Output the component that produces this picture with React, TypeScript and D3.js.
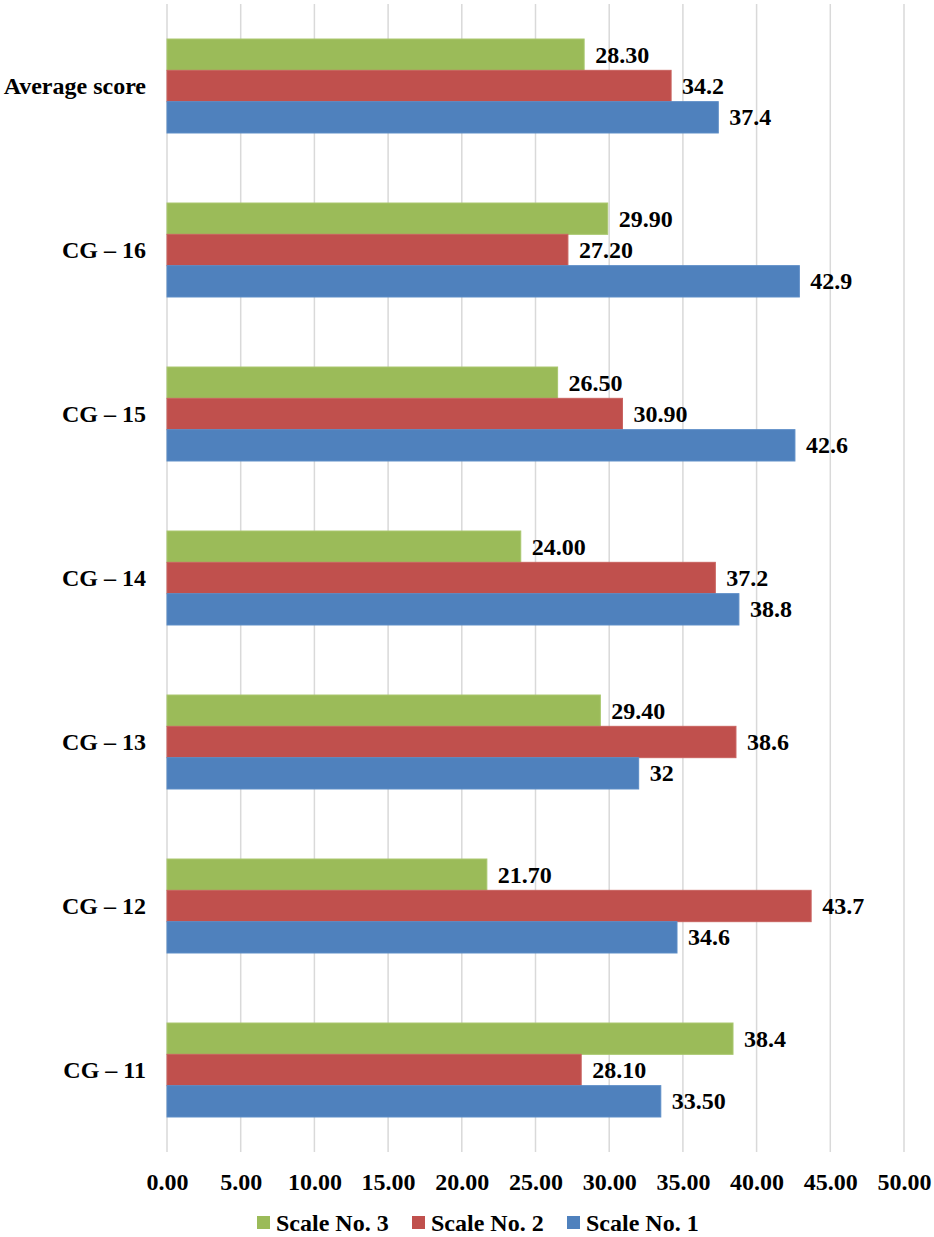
import * as d3 from 'd3';
import React, { useEffect, useRef } from 'react';

// categories top to bottom
const categories = ['Average score', 'CG – 16', 'CG – 15', 'CG – 14', 'CG – 13', 'CG – 12', 'CG – 11'];

// series values, same order as categories
const scale3 = [28.3, 29.9, 26.5, 24.0, 29.4, 21.7, 38.4];
const scale2 = [34.2, 27.2, 30.9, 37.2, 38.6, 43.7, 28.1];
const scale1 = [37.4, 42.9, 42.6, 38.8, 32.0, 34.6, 33.5];

// data labels as printed on the chart
const labels3 = ['28.30', '29.90', '26.50', '24.00', '29.40', '21.70', '38.4'];
const labels2 = ['34.2', '27.20', '30.90', '37.2', '38.6', '43.7', '28.10'];
const labels1 = ['37.4', '42.9', '42.6', '38.8', '32', '34.6', '33.50'];

const xTicks = [0, 5, 10, 15, 20, 25, 30, 35, 40, 45, 50];

const seriesNames = ['Scale No. 3', 'Scale No. 2', 'Scale No. 1'];
const seriesColors = ['#9BBB59', '#C0504D', '#4F81BD'];
const seriesStrokes = ['#A9C76E', '#C9625F', '#5B8CC6'];

export default () => {
    const ref = useRef<any>();

    useEffect(() => {
        const width = 934;
        const height = 1237;
        const fontSize = 24;
        const font = "'Times New Roman', Times, 'Liberation Serif', 'Nimbus Roman', 'DejaVu Serif', serif";

        const svg = d3.select<any, any>(ref.current)
            .attr('width', width)
            .attr('height', height)
            .style('font-family', font);
        svg.selectAll('*').remove();

        const xScale = d3.scaleLinear().domain([0, 50]).range([167, 904]);
        const yScale = d3.scaleBand().domain(categories).range([4, 1152])
            .paddingInner(0.427).paddingOuter(0.2135);
        const inner = d3.scaleBand().domain(seriesNames).range([0, yScale.bandwidth()]);

        // gridlines
        svg.append('g').selectAll('line').data(xTicks).join('line')
            .attr('x1', (d) => xScale(d))
            .attr('x2', (d) => xScale(d))
            .attr('y1', 4)
            .attr('y2', 1152)
            .attr('stroke', '#D9D9D9')
            .attr('stroke-width', 1.5);

        const series = [
            { name: seriesNames[0], values: scale3, labels: labels3 },
            { name: seriesNames[1], values: scale2, labels: labels2 },
            { name: seriesNames[2], values: scale1, labels: labels1 },
        ];

        series.forEach((s, si) => {
            const g = svg.append('g').attr('class', 'series');
            g.selectAll('rect').data(categories).join('rect')
                .attr('x', xScale(0))
                .attr('y', (c) => (yScale(c) as number) + (inner(s.name) as number))
                .attr('width', (c, i) => xScale(s.values[i]) - xScale(0))
                .attr('height', inner.bandwidth())
                .attr('fill', seriesColors[si])
                .attr('stroke', seriesStrokes[si])
                .attr('stroke-width', 1);
            g.selectAll('text').data(categories).join('text')
                .attr('x', (c, i) => xScale(s.values[i]) + 11)
                .attr('y', (c) => (yScale(c) as number) + (inner(s.name) as number) + inner.bandwidth() / 2 + 8)
                .style('font-family', font)
                .attr('font-weight', 'bold')
                .attr('font-size', fontSize)
                .attr('fill', '#000')
                .text((c, i) => s.labels[i]);
        });

        // category axis
        const yAxis = svg.append('g')
            .attr('transform', `translate(${xScale(0)},0)`)
            .call(d3.axisLeft(yScale).tickSize(0).tickPadding(21));
        yAxis.attr('font-family', null);
        yAxis.select('.domain').remove();
        yAxis.selectAll('text')
            .style('font-family', font)
            .attr('font-weight', 'bold')
            .attr('font-size', fontSize)
            .attr('fill', '#000')
            .attr('dy', '0.32em');

        // value axis
        const xAxis = svg.append('g')
            .attr('transform', 'translate(0,1152)')
            .call(d3.axisBottom(xScale).tickValues(xTicks).tickSize(0).tickPadding(21)
                .tickFormat((d: any) => d3.format('.2f')(d)));
        xAxis.attr('font-family', null);
        xAxis.select('.domain').remove();
        xAxis.selectAll('text')
            .style('font-family', font)
            .attr('font-weight', 'bold')
            .attr('font-size', fontSize)
            .attr('fill', '#000');

        // legend
        const legend = svg.append('g').attr('transform', 'translate(257,1223)');
        const items = legend.selectAll('g').data(seriesNames).join('g')
            .attr('transform', (d, i) => `translate(${i * 155},0)`);
        items.append('rect')
            .attr('x', 0)
            .attr('y', -7)
            .attr('width', 13)
            .attr('height', 13)
            .attr('fill', (d, i) => seriesColors[i]);
        items.append('text')
            .attr('x', 19)
            .attr('y', 8)
            .style('font-family', font)
            .attr('font-weight', 'bold')
            .attr('font-size', fontSize)
            .attr('fill', '#000')
            .text((d) => d);
    }, []);

    return (
        <svg ref={ref} style={{ position: 'absolute', left: 0, top: 0 }}></svg>
    );
};
